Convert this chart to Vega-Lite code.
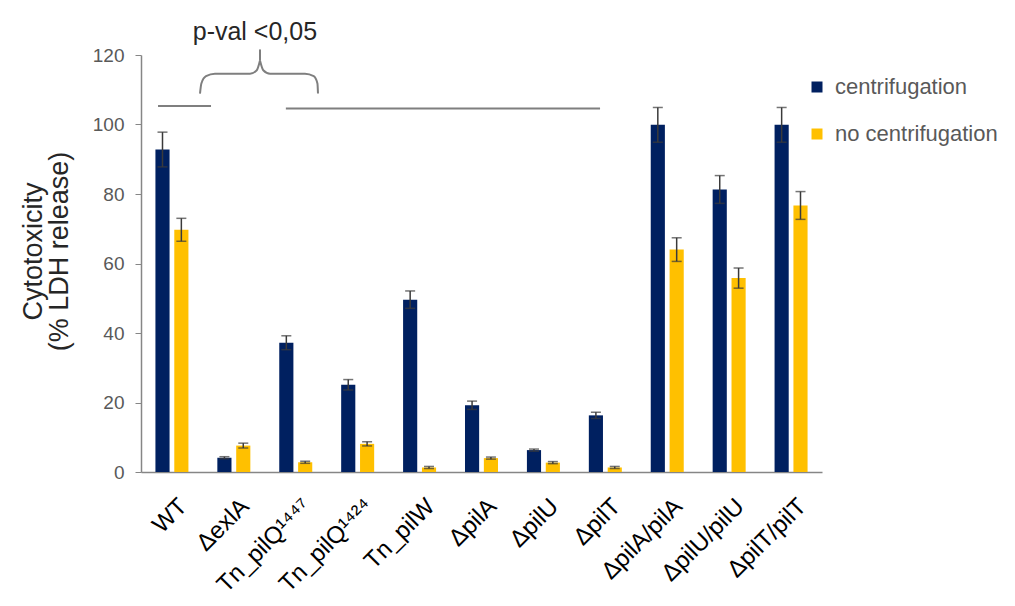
{
  "$schema": "https://vega.github.io/schema/vega-lite/v6.json",
  "autosize": {"type": "none"},
  "padding": {"left": 141, "top": 55, "right": 193, "bottom": 134},
  "width": 681,
  "height": 417,
  "background": "white",
  "config": {"view": {"stroke": null}, "font": "Liberation Sans"},
  "datasets": {
    "bars": [
      {"strain": "WT", "condition": "centrifugation", "value": 92.8, "lo": 87.8, "hi": 97.8},
      {"strain": "WT", "condition": "no centrifugation", "value": 69.7, "lo": 66.4, "hi": 73.0},
      {"strain": "ΔexlA", "condition": "centrifugation", "value": 4.1, "lo": 3.8, "hi": 4.4},
      {"strain": "ΔexlA", "condition": "no centrifugation", "value": 7.6, "lo": 6.9, "hi": 8.3},
      {"strain": "Tn_pilQ¹⁴⁴⁷", "condition": "centrifugation", "value": 37.2, "lo": 35.2, "hi": 39.2},
      {"strain": "Tn_pilQ¹⁴⁴⁷", "condition": "no centrifugation", "value": 2.8, "lo": 2.5, "hi": 3.1},
      {"strain": "Tn_pilQ¹⁴²⁴", "condition": "centrifugation", "value": 25.1, "lo": 23.6, "hi": 26.6},
      {"strain": "Tn_pilQ¹⁴²⁴", "condition": "no centrifugation", "value": 8.1, "lo": 7.5, "hi": 8.7},
      {"strain": "Tn_pilW", "condition": "centrifugation", "value": 49.6, "lo": 47.1, "hi": 52.1},
      {"strain": "Tn_pilW", "condition": "no centrifugation", "value": 1.3, "lo": 1.0, "hi": 1.6},
      {"strain": "ΔpilA", "condition": "centrifugation", "value": 19.2, "lo": 18.0, "hi": 20.4},
      {"strain": "ΔpilA", "condition": "no centrifugation", "value": 4.0, "lo": 3.7, "hi": 4.3},
      {"strain": "ΔpilU", "condition": "centrifugation", "value": 6.3, "lo": 6.0, "hi": 6.6},
      {"strain": "ΔpilU", "condition": "no centrifugation", "value": 2.7, "lo": 2.4, "hi": 3.0},
      {"strain": "ΔpilT", "condition": "centrifugation", "value": 16.3, "lo": 15.4, "hi": 17.2},
      {"strain": "ΔpilT", "condition": "no centrifugation", "value": 1.3, "lo": 1.0, "hi": 1.6},
      {"strain": "ΔpilA/pilA", "condition": "centrifugation", "value": 99.9, "lo": 94.9, "hi": 104.9},
      {"strain": "ΔpilA/pilA", "condition": "no centrifugation", "value": 64.0, "lo": 60.6, "hi": 67.4},
      {"strain": "ΔpilU/pilU", "condition": "centrifugation", "value": 81.3, "lo": 77.3, "hi": 85.3},
      {"strain": "ΔpilU/pilU", "condition": "no centrifugation", "value": 55.8, "lo": 52.9, "hi": 58.7},
      {"strain": "ΔpilT/pilT", "condition": "centrifugation", "value": 99.9, "lo": 94.9, "hi": 104.9},
      {"strain": "ΔpilT/pilT", "condition": "no centrifugation", "value": 76.7, "lo": 72.7, "hi": 80.7}
    ],
    "lines": [
      {"x": 0.275, "x2": 1.131, "y": 105.3},
      {"x": 2.34, "x2": 7.415, "y": 104.6}
    ],
    "brace": [
      {"part": "left", "x": 0.953, "y": 108.9},
      {"part": "left", "x": 0.975, "y": 111.8},
      {"part": "left", "x": 1.05, "y": 113.9},
      {"part": "left", "x": 1.195, "y": 114.6},
      {"part": "left", "x": 1.761, "y": 114.6},
      {"part": "left", "x": 1.87, "y": 115.6},
      {"part": "left", "x": 1.922, "y": 118.4},
      {"part": "right", "x": 1.922, "y": 118.4},
      {"part": "right", "x": 1.975, "y": 115.6},
      {"part": "right", "x": 2.084, "y": 114.6},
      {"part": "right", "x": 2.649, "y": 114.6},
      {"part": "right", "x": 2.79, "y": 113.9},
      {"part": "right", "x": 2.85, "y": 111.8},
      {"part": "right", "x": 2.859, "y": 108.9}
    ],
    "stick": [{"x": 1.922, "y": 118.4, "y2": 121.6}],
    "label": [{"x": 1.84, "y": 126.5, "text": "p-val <0,05"}]
  },
  "layer": [
    {
      "data": {"name": "bars"},
      "encoding": {
        "x": {
          "field": "strain", "type": "nominal", "sort": null,
          "scale": {"paddingInner": 0.467, "paddingOuter": 0.233},
          "axis": {
            "title": null, "labelAngle": -45, "labelFontSize": 24, "labelColor": "#000000",
            "ticks": false, "labelPadding": 22, "labelOffset": 3, "labelLimit": 300,
            "domainColor": "#868686", "domainWidth": 1.5
          }
        },
        "xOffset": {
          "field": "condition", "type": "nominal",
          "scale": {"paddingInner": 0.25, "paddingOuter": 0}
        }
      },
      "layer": [
        {
          "mark": {"type": "bar"},
          "encoding": {
            "y": {
              "field": "value", "type": "quantitative",
              "scale": {"domain": [0, 120], "nice": false},
              "axis": {
                "values": [0, 20, 40, 60, 80, 100, 120],
                "title": ["Cytotoxicity", "(% LDH release)"],
                "titleFontSize": 27, "titleFontWeight": "normal", "titleColor": "#262626",
                "titleLineHeight": 26, "titleAngle": -90, "titleAlign": "center",
                "titleBaseline": "bottom", "titleX": -94, "titleY": 196,
                "labelFontSize": 19, "labelColor": "#595959", "labelPadding": 11,
                "tickSize": 6, "tickColor": "#868686", "domainColor": "#868686",
                "domainWidth": 1.5, "grid": false
              }
            },
            "color": {
              "field": "condition", "type": "nominal",
              "scale": {"domain": ["centrifugation", "no centrifugation"], "range": ["#002060", "#FFC000"]},
              "legend": {
                "title": null, "orient": "none", "legendX": 665, "legendY": 21,
                "symbolType": "square", "symbolSize": 121, "symbolStrokeWidth": 0,
                "labelFontSize": 22, "labelColor": "#595959", "labelOffset": 7,
                "labelLimit": 400, "rowPadding": 25, "padding": 0
              }
            }
          }
        },
        {
          "mark": {"type": "rule", "color": "#3a3a3a", "strokeWidth": 1.5},
          "encoding": {
            "y": {"field": "lo", "type": "quantitative"},
            "y2": {"field": "hi"}
          }
        },
        {
          "mark": {"type": "tick", "color": "#3a3a3a", "thickness": 1.5, "size": 10, "orient": "horizontal"},
          "encoding": {"y": {"field": "hi", "type": "quantitative"}}
        },
        {
          "mark": {"type": "tick", "color": "#3a3a3a", "thickness": 1.5, "size": 10, "orient": "horizontal"},
          "encoding": {"y": {"field": "lo", "type": "quantitative"}}
        }
      ]
    },
    {
      "layer": [
        {
          "data": {"name": "lines"},
          "mark": {"type": "rule", "color": "#7f7f7f", "strokeWidth": 2},
          "encoding": {
            "x": {"field": "x", "type": "quantitative", "scale": {"domain": [0, 11], "nice": false, "zero": false}, "axis": null},
            "x2": {"field": "x2"},
            "y": {"field": "y", "type": "quantitative"}
          }
        },
        {
          "data": {"name": "brace"},
          "mark": {"type": "line", "color": "#7f7f7f", "strokeWidth": 2, "interpolate": "monotone"},
          "encoding": {
            "x": {"field": "x", "type": "quantitative"},
            "y": {"field": "y", "type": "quantitative"},
            "detail": {"field": "part", "type": "nominal"}
          }
        },
        {
          "data": {"name": "stick"},
          "mark": {"type": "rule", "color": "#7f7f7f", "strokeWidth": 2},
          "encoding": {
            "x": {"field": "x", "type": "quantitative"},
            "y": {"field": "y", "type": "quantitative"},
            "y2": {"field": "y2"}
          }
        },
        {
          "data": {"name": "label"},
          "mark": {"type": "text", "fontSize": 25, "color": "#262626", "align": "center", "baseline": "middle"},
          "encoding": {
            "x": {"field": "x", "type": "quantitative"},
            "y": {"field": "y", "type": "quantitative"},
            "text": {"field": "text"}
          }
        }
      ]
    }
  ],
  "resolve": {"scale": {"x": "independent"}}
}
